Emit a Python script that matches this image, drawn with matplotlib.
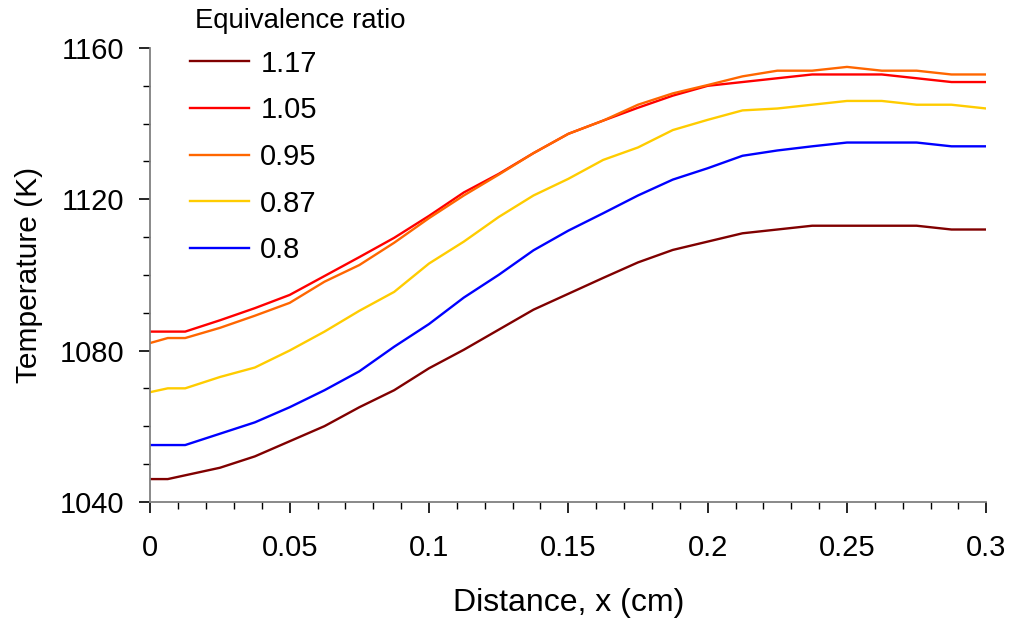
import numpy as np
import matplotlib.pyplot as plt
from matplotlib.ticker import MultipleLocator

plt.rcParams['font.family'] = ['Liberation Sans', 'DejaVu Sans']

# distance along the channel (cm)
x = [0, 0.00625, 0.0125, 0.025, 0.0375, 0.05, 0.0625, 0.075, 0.0875, 0.1,
     0.1125, 0.125, 0.1375, 0.15, 0.1625, 0.175, 0.1875, 0.2, 0.2125, 0.225,
     0.2375, 0.25, 0.2625, 0.275, 0.2875, 0.3]

# temperature (K) for each equivalence ratio
T_117 = [1046, 1046, 1047, 1049, 1052, 1056, 1060, 1065, 1069.5, 1075.3,
         1080.2, 1085.5, 1090.8, 1095, 1099.2, 1103.3, 1106.6, 1108.8, 1111, 1112,
         1113, 1113, 1113, 1113, 1112, 1112]
T_105 = [1085, 1085, 1085, 1088, 1091.2, 1094.7, 1099.7, 1104.7, 1109.8, 1115.6,
         1121.8, 1126.7, 1132.2, 1137.3, 1140.8, 1144.2, 1147.4, 1150, 1151, 1152,
         1153, 1153, 1153, 1152, 1151, 1151]
T_095 = [1082, 1083.3, 1083.3, 1086, 1089.2, 1092.6, 1098.2, 1102.6, 1108.5, 1115,
         1121, 1126.5, 1132.2, 1137.3, 1140.8, 1145, 1148, 1150.2, 1152.5, 1154,
         1154, 1155, 1154, 1154, 1153, 1153]
T_087 = [1069, 1070, 1070, 1073, 1075.5, 1080, 1085, 1090.5, 1095.5, 1103,
         1108.8, 1115.3, 1121, 1125.4, 1130.4, 1133.7, 1138.3, 1141, 1143.5, 1144,
         1145, 1146, 1146, 1145, 1145, 1144]
T_080 = [1055, 1055, 1055, 1058, 1061, 1065, 1069.5, 1074.5, 1081, 1087,
         1094, 1100, 1106.5, 1111.7, 1116.3, 1121, 1125.2, 1128.2, 1131.5, 1132.9,
         1134, 1135, 1135, 1135, 1134, 1134]

labels = ['1.17', '1.05', '0.95', '0.87', '0.8']
colors = ['#800000', '#FF0000', '#FF6600', '#FFCC00', '#0000FF']
series = [T_117, T_105, T_095, T_087, T_080]

fig = plt.figure(figsize=(10.09, 6.21), dpi=100)
ax = fig.add_axes([0.149, 0.192, 0.8285, 0.7307])

for T, lab, c in zip(series, labels, colors):
    ax.plot(x, T, color=c, lw=1.7, label=lab)

ax.set_xlim(0, 0.3)
ax.set_ylim(1040, 1160)
ax.xaxis.set_minor_locator(MultipleLocator(0.01))
ax.yaxis.set_major_locator(MultipleLocator(40))
ax.yaxis.set_minor_locator(MultipleLocator(10))
ax.set_xticks([0, 0.05, 0.1, 0.15, 0.2, 0.25, 0.3])
ax.set_xticklabels(['0', '0.05', '0.1', '0.15', '0.2', '0.25', '0.3'])

for s in ['top', 'right']:
    ax.spines[s].set_visible(False)
for s in ['left', 'bottom']:
    ax.spines[s].set_color('#808080')
    ax.spines[s].set_linewidth(1.3)

ax.tick_params(axis='both', which='major', direction='out', length=8, width=1.2,
               color='black', labelsize=21)
ax.tick_params(axis='both', which='minor', direction='out', length=5, width=1.0,
               color='black')
ax.tick_params(axis='y', which='major', pad=11)
ax.tick_params(axis='x', which='major', pad=15)

ax.set_xlabel('Distance, x (cm)', fontsize=23, labelpad=19)
ax.set_ylabel('Temperature (K)', fontsize=21.5, labelpad=12)

# legend entries, with the heading placed as plain text above them
leg = ax.legend(loc='upper left', bbox_to_anchor=(0.177, 0.939), bbox_transform=fig.transFigure,
                frameon=False, fontsize=21, handlelength=2.0, handletextpad=0.4,
                labelspacing=0.64, borderaxespad=0)
fig.text(0.193, 0.966, 'Equivalence ratio', fontsize=19.8, ha='left', va='center')

fig.savefig('out.png', dpi=100)
